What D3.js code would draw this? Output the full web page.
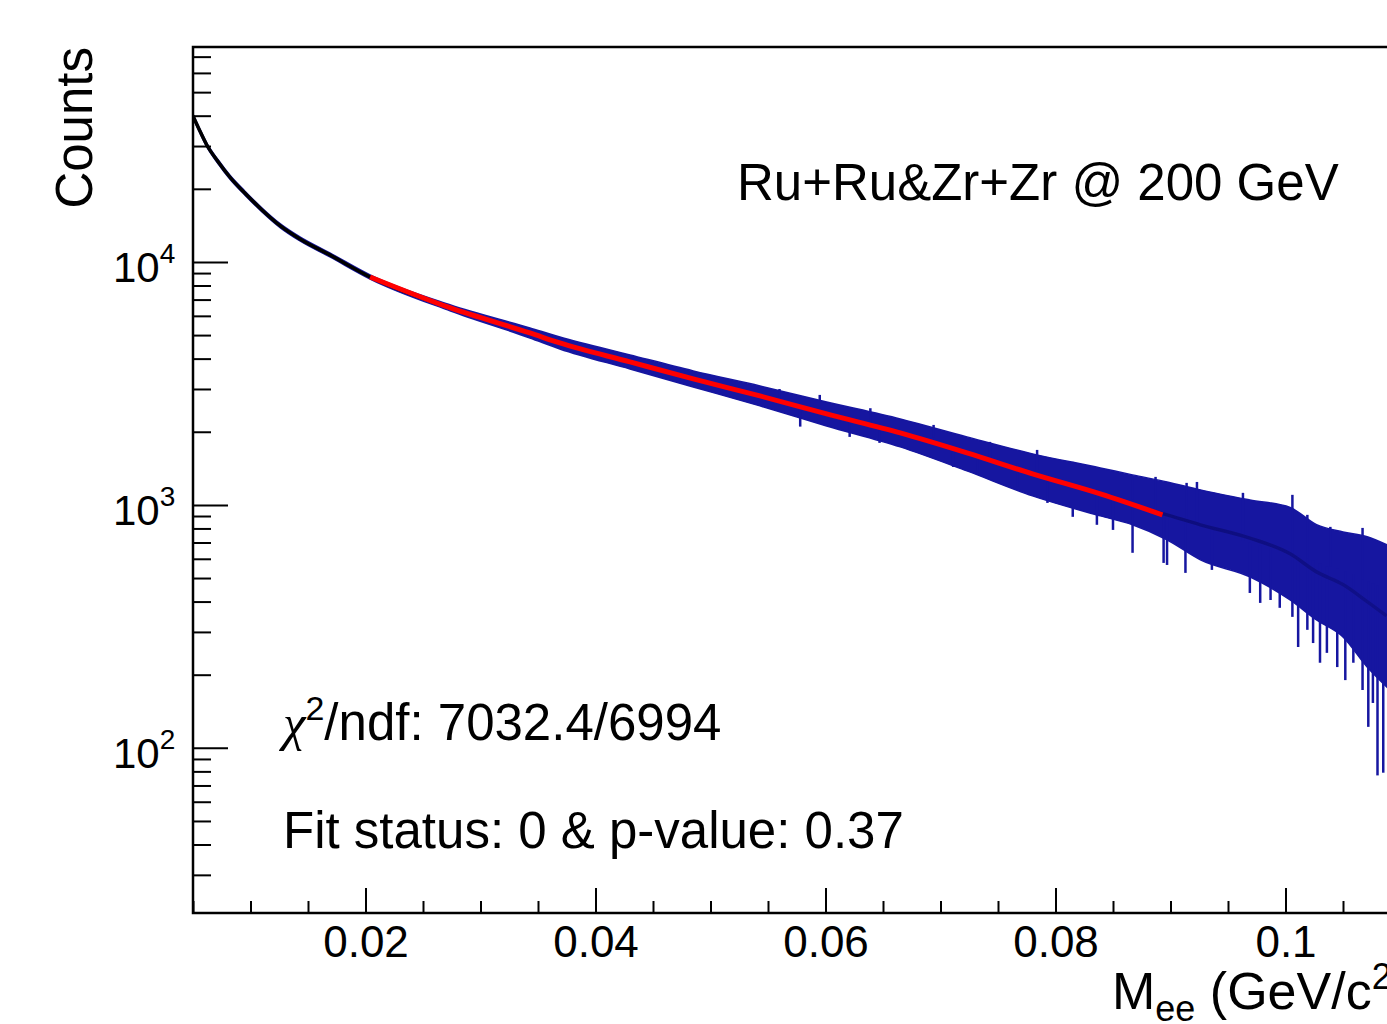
<!DOCTYPE html>
<html>
<head>
<meta charset="utf-8">
<script src="https://d3js.org/d3.v7.min.js"></script>
<style>
  body { margin: 0; background: #fff; }
  svg { display: block; font-family: "Liberation Sans", Arial, Helvetica, sans-serif; }
</style>
</head>
<body>
<svg width="1387" height="1024"></svg>
<script>
// --- data ---
// bulk of the histogram: bin centre line and the upper / lower edge of the error-bar band
var massPts = [0.005, 0.0056, 0.0062, 0.0072, 0.0082, 0.0095, 0.011, 0.0126, 0.0143, 0.0169, 0.0204, 0.0274,
  0.0343, 0.0369, 0.043, 0.0485, 0.0543, 0.0601, 0.0665, 0.0723, 0.078, 0.0839, 0.0867, 0.0897, 0.0926, 0.0969,
  0.1004, 0.1027, 0.105, 0.1071, 0.1088];
var centerCounts = [39900, 34600, 30300, 25790, 22370, 19230, 16370, 14070, 12430, 10690, 8675, 6467,
  5103, 4642, 3877, 3300, 2809, 2368, 1978, 1637, 1342, 1110, 1000, 910, 828, 730,
  629, 530, 470, 400, 349];
var upperCounts = [40660, 35260, 30880, 26280, 22800, 19600, 16680, 14340, 12670, 10890, 8840, 6650,
  5350, 4913, 4143, 3560, 3088, 2654, 2259, 1905, 1622, 1420, 1329, 1243, 1153, 1048,
  976, 829, 774, 740, 686];
var lowerCounts = [39150, 33950, 29730, 25310, 21950, 18870, 16060, 13810, 12200, 10490, 8510, 6285,
  4867, 4385, 3628, 3059, 2556, 2114, 1733, 1380, 1089, 901, 828, 718, 594, 506,
  406, 336, 286, 215, 178];

// single bins sticking out of the band (mass, low end, high end)
var spikeMass = [0.0578, 0.0621, 0.0647, 0.0711, 0.0732, 0.0767, 0.0793, 0.0815, 0.0836, 0.085, 0.0867, 0.0894,
  0.0897, 0.0913, 0.0936, 0.0969, 0.0978, 0.0987, 0.0995, 0.1006, 0.1011, 0.1019, 0.1024, 0.103, 0.1036, 0.1045,
  0.1052, 0.1059, 0.1067, 0.1072, 0.1076, 0.108, 0.1085,
  0.056, 0.0595, 0.0639, 0.0694, 0.0743, 0.0784, 0.0815, 0.0867, 0.0887, 0.0914, 0.0923, 0.0963, 0.1006, 0.1019,
  0.1039, 0.1067, 0.1085];
var spikeLo = [2100, 1905, 1800, 1433, 1329, 1186, 1019, 893, 828, 789, 635, 577,
  566, 525, 540, 434, 395, 406, 377, 346, 260, 306, 270, 224, 246, 215,
  190, 224, 173, 122, 153, 77, 79,
  2600, 2400, 2100, 1900, 1560, 1380, 1200, 1048, 950, 860, 830, 710, 630, 600,
  560, 495, 455];
var spikeHi = [2600, 2300, 2150, 1700, 1640, 1480, 1340, 1250, 1160, 1100, 1048, 930,
  910, 860, 790, 698, 680, 660, 650, 630, 620, 600, 590, 575, 560, 545,
  530, 515, 495, 485, 475, 465, 455,
  3000, 2836, 2500, 2134, 1817, 1684, 1503, 1292, 1304, 1232, 1243, 1121, 1100, 910,
  812, 804, 684];

// fit curve
var fitMass = [0.0204, 0.0274, 0.0343, 0.0369, 0.043, 0.0485, 0.0543, 0.0601, 0.0665, 0.0723, 0.078, 0.0839, 0.0893];
var fitCounts = [8675, 6467, 5103, 4642, 3877, 3300, 2809, 2368, 1978, 1637, 1342, 1110, 910];

// ticks
var xMajor = [0.02, 0.04, 0.06, 0.08, 0.1, 0.12];
var xMajorLabels = ["0.02", "0.04", "0.06", "0.08", "0.1", ""];
var xMinor = [0.005, 0.01, 0.015, 0.025, 0.03, 0.035, 0.045, 0.05, 0.055, 0.065, 0.07, 0.075, 0.085, 0.09, 0.095, 0.105, 0.11, 0.115];
var yDecades = [100, 1000, 10000];
var yDecadeExp = ["2", "3", "4"];

var svg = d3.select("svg"),
  padLeft = 193, padTop = 47, padBottom = 913;

var x = d3.scaleLinear().domain([0.005, 0.12]).range([padLeft, padLeft + 0.115 * 11500]);
var y = d3.scaleLog().domain([20.9, 76700]).range([padBottom, padTop]);

var blue = "#1616a0";

var band = massPts.map(function(m, i) {
  return { m: m, c: centerCounts[i], hi: upperCounts[i], lo: lowerCounts[i] };
});

var defs = svg.append("defs");
defs.append("clipPath").attr("id", "frame")
  .append("rect").attr("x", padLeft).attr("y", padTop).attr("width", 1400).attr("height", padBottom - padTop);
// the black markers dominate on the left, get lost among the blue bars on the right
var grad = defs.append("linearGradient").attr("id", "coreGrad")
  .attr("gradientUnits", "userSpaceOnUse")
  .attr("x1", padLeft).attr("x2", 1387).attr("y1", 0).attr("y2", 0);
grad.append("stop").attr("offset", 0).attr("stop-color", "#000");
grad.append("stop").attr("offset", 0.45).attr("stop-color", "#000");
grad.append("stop").attr("offset", 0.75).attr("stop-color", "#0c0c78");
grad.append("stop").attr("offset", 1).attr("stop-color", "#10108a");

var gData = svg.append("g").attr("clip-path", "url(#frame)");

gData.append("path")
  .datum(band)
  .attr("d", d3.area().curve(d3.curveMonotoneX)
    .x(function(d) { return x(d.m); })
    .y0(function(d) { return y(d.lo); })
    .y1(function(d) { return y(d.hi); }))
  .attr("fill", blue)
  .attr("stroke", blue)
  .attr("stroke-width", 1.5);

gData.selectAll("line.spike")
  .data(spikeMass).enter().append("line")
  .attr("class", "spike")
  .attr("x1", function(d) { return x(d); })
  .attr("x2", function(d) { return x(d); })
  .attr("y1", function(d, i) { return y(spikeLo[i]); })
  .attr("y2", function(d, i) { return y(spikeHi[i]); })
  .attr("stroke", blue)
  .attr("stroke-width", 2.5);

gData.append("path")
  .datum(band)
  .attr("d", d3.line().curve(d3.curveMonotoneX)
    .x(function(d) { return x(d.m); })
    .y(function(d) { return y(d.c); }))
  .attr("fill", "none")
  .attr("stroke", "url(#coreGrad)")
  .attr("stroke-width", 3.5);

gData.append("path")
  .datum(fitMass.map(function(m, i) { return [m, fitCounts[i]]; }))
  .attr("d", d3.line().curve(d3.curveMonotoneX)
    .x(function(d) { return x(d[0]); })
    .y(function(d) { return y(d[1]); }))
  .attr("fill", "none")
  .attr("stroke", "#ff0000")
  .attr("stroke-width", 5);

// axes: minor and major ticks in separate groups
var gxMinor = svg.append("g").attr("transform", "translate(0," + padBottom + ")")
  .call(d3.axisBottom(x).tickValues(xMinor).tickSize(-12).tickFormat(""));
var gxMajor = svg.append("g").attr("transform", "translate(0," + padBottom + ")")
  .call(d3.axisBottom(x).tickValues(xMajor).tickSize(-25).tickPadding(13)
    .tickFormat(function(d, i) { return xMajorLabels[i]; }));
gxMajor.selectAll(".tick text").attr("font-size", 44).attr("fill", "#000")
  .attr("font-family", "Liberation Sans, Arial, sans-serif");

var yMinor = y.ticks().filter(function(t) { return yDecades.indexOf(t) < 0; });
var gyMinor = svg.append("g").attr("transform", "translate(" + padLeft + ",0)")
  .call(d3.axisLeft(y).tickValues(yMinor).tickSize(-18).tickFormat(""));
var gyMajor = svg.append("g").attr("transform", "translate(" + padLeft + ",0)")
  .call(d3.axisLeft(y).tickValues(yDecades).tickSize(-35).tickFormat(""));

svg.selectAll(".domain").remove();
svg.selectAll(".tick line").attr("stroke", "#000").attr("stroke-width", 2);

var yLab = svg.append("g").selectAll("text")
  .data(yDecades).enter().append("text")
  .attr("x", 113)
  .attr("y", function(d) { return y(d) + 20; })
  .attr("font-size", 42);
yLab.append("tspan").text("10");
yLab.append("tspan").attr("dy", -19).attr("font-size", 28)
  .text(function(d, i) { return yDecadeExp[i]; });

// frame
svg.append("rect")
  .attr("x", padLeft).attr("y", padTop)
  .attr("width", 1400).attr("height", padBottom - padTop)
  .attr("fill", "none").attr("stroke", "#000").attr("stroke-width", 2.5);

// titles and annotations
svg.append("text")
  .attr("transform", "translate(92," + padTop + ") rotate(-90)")
  .attr("text-anchor", "end")
  .attr("font-size", 51)
  .text("Counts");

var xt = svg.append("text").attr("x", 1112).attr("y", 1009).attr("font-size", 52);
xt.append("tspan").text("M");
xt.append("tspan").attr("dy", 12).attr("font-size", 36).text("ee");
xt.append("tspan").attr("dy", -12).text(" (GeV/c");
xt.append("tspan").attr("dy", -20).attr("font-size", 36).text("2");
xt.append("tspan").attr("dy", 20).text(")");

svg.append("text")
  .attr("x", 737).attr("y", 200)
  .attr("font-size", 51)
  .text("Ru+Ru&Zr+Zr @ 200 GeV");

var chi = svg.append("text").attr("x", 283).attr("y", 740).attr("font-size", 51);
chi.append("tspan").attr("font-family", "Liberation Serif, serif").attr("font-style", "italic").text("χ");
chi.append("tspan").attr("dy", -20).attr("font-size", 34).text("2");
chi.append("tspan").attr("dy", 20).text("/ndf: 7032.4/6994");

svg.append("text")
  .attr("x", 283).attr("y", 848)
  .attr("font-size", 51)
  .text("Fit status: 0 & p-value: 0.37");
</script>
</body>
</html>
